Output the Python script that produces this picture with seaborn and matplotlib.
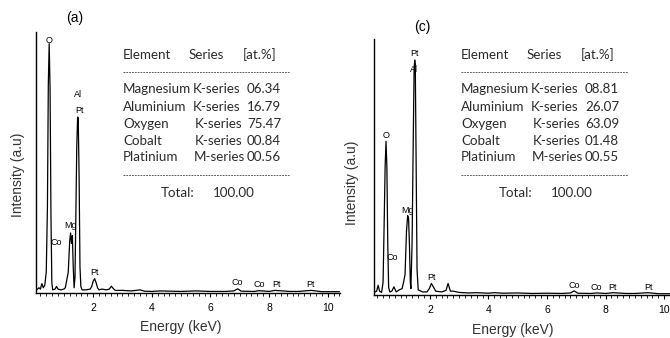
import matplotlib
matplotlib.use("Agg")
import matplotlib.pyplot as plt
import seaborn as sns
import pandas as pd
from matplotlib.lines import Line2D
from matplotlib.ticker import MultipleLocator

# ---------------- data ----------------
energy_a = [0.05, 0.15, 0.20, 0.25, 0.30, 0.35, 0.40, 0.44, 0.47, 0.50, 0.53, 0.56, 0.59, 0.62,
            0.70, 0.75, 0.80, 0.90, 1.00, 1.05, 1.10, 1.15, 1.20, 1.23, 1.26, 1.29, 1.32, 1.35,
            1.38, 1.41, 1.44, 1.47, 1.49, 1.52, 1.55, 1.58, 1.62, 1.75, 1.90, 1.95, 2.00, 2.05,
            2.10, 2.15, 2.20, 2.30, 2.45, 2.55, 2.62, 2.68, 2.75, 3.00, 3.30, 3.60, 3.75, 4.00,
            4.30, 4.60, 5.00, 5.50, 6.00, 6.50, 6.80, 6.93, 7.05, 7.50, 7.65, 8.00, 8.20, 8.70,
            9.00, 9.44, 9.80, 10.40]
intensity_a = [0.010, 0.020, 0.015, 0.036, 0.020, 0.030, 0.080, 0.330, 0.800, 0.955, 0.780, 0.300, 0.040, 0.012,
               0.015, 0.025, 0.015, 0.012, 0.015, 0.020, 0.050, 0.080, 0.200, 0.230, 0.190, 0.220, 0.100, 0.020,
               0.060, 0.300, 0.560, 0.674, 0.670, 0.450, 0.100, 0.025, 0.012, 0.012, 0.015, 0.025, 0.045, 0.055,
               0.040, 0.020, 0.012, 0.015, 0.012, 0.015, 0.026, 0.018, 0.010, 0.010, 0.008, 0.012, 0.007, 0.006,
               0.008, 0.007, 0.006, 0.008, 0.006, 0.006, 0.008, 0.016, 0.007, 0.006, 0.009, 0.006, 0.010, 0.006,
               0.006, 0.010, 0.005, 0.005]

energy_c = [0.10, 0.18, 0.23, 0.28, 0.35, 0.40, 0.44, 0.47, 0.50, 0.53, 0.56, 0.59, 0.63, 0.70,
            0.77, 0.85, 0.95, 1.05, 1.10, 1.15, 1.20, 1.24, 1.27, 1.30, 1.33, 1.35, 1.39, 1.43,
            1.46, 1.48, 1.50, 1.53, 1.56, 1.60, 1.75, 1.90, 1.98, 2.05, 2.10, 2.20, 2.40, 2.55,
            2.62, 2.70, 2.80, 3.00, 3.30, 3.60, 4.00, 4.20, 4.50, 5.00, 5.50, 6.00, 6.50, 6.80,
            6.93, 7.05, 7.50, 7.70, 8.00, 8.25, 8.70, 9.00, 9.45, 9.80, 10.20]
intensity_c = [0.010, 0.015, 0.038, 0.015, 0.010, 0.050, 0.300, 0.500, 0.600, 0.500, 0.200, 0.030, 0.012, 0.015,
               0.032, 0.012, 0.020, 0.025, 0.050, 0.080, 0.250, 0.310, 0.300, 0.200, 0.050, 0.025, 0.200, 0.600,
               0.880, 0.918, 0.900, 0.500, 0.100, 0.020, 0.012, 0.012, 0.025, 0.045, 0.035, 0.015, 0.012, 0.018,
               0.045, 0.015, 0.015, 0.010, 0.008, 0.009, 0.007, 0.009, 0.007, 0.008, 0.006, 0.007, 0.006, 0.008,
               0.016, 0.007, 0.006, 0.008, 0.006, 0.009, 0.006, 0.006, 0.009, 0.005, 0.005]

peak_labels = ["O", "Co", "Mg", "Al", "Pt", "Pt", "Co", "Co", "Pt", "Pt"]
peak_x_a = [0.49, 0.73, 1.24, 1.48, 1.52, 2.03, 6.91, 7.66, 8.24, 9.43]
peak_y_a = [0.966, 0.192, 0.26, 0.762, 0.701, 0.08, 0.042, 0.034, 0.034, 0.034]
peak_x_c = [0.50, 0.71, 1.25, 1.46, 1.49, 2.04, 6.92, 7.67, 8.25, 9.48]
peak_y_c = [0.625, 0.145, 0.332, 0.879, 0.945, 0.07, 0.039, 0.031, 0.031, 0.031]

elements = ["Magnesium", "Aluminium", "Oxygen", "Cobalt", "Platinium"]
series = ["K-series", "K-series", "K-series", "K-series", "M-series"]
at_pct_a = ["06.34", "16.79", "75.47", "00.84", "00.56"]
at_pct_c = ["08.81", "26.07", "63.09", "01.48", "00.55"]
total_text = "100.00"
panel_names = ["(a)", "(c)"]

# ---------------- figure ----------------
sns.set_theme(style="ticks")
plt.rcParams["font.family"] = ["Liberation Sans", "DejaVu Sans"]

W, H = 670, 338
fig = plt.figure(figsize=(6.7, 3.38), dpi=100)


def fx(px):
    return px / W


def fy(py):
    return 1 - py / H


# axes boxes in pixels: (left, top, right, bottom)
boxes = [(36, 32, 340, 293), (374, 39, 670, 295)]
xlims = [(0.05, 10.42), (0.09, 10.2)]
spectra = [(energy_a, intensity_a), (energy_c, intensity_c)]
peaks = [(peak_x_a, peak_y_a), (peak_x_c, peak_y_c)]
pcts = [at_pct_a, at_pct_c]
ylabel_pos = [(-0.036, 0.452), (-0.05, 0.4375)]
xlabel_pos = [(0.477, -0.105), (0.468, -0.108)]
panel_pos = [(75, 18), (422, 27)]
table_dx = [0, 338]

for i in range(2):
    l, t, r, b = boxes[i]
    ax = fig.add_axes([fx(l), fy(b), fx(r) - fx(l), (b - t) / H])
    df = pd.DataFrame({"Energy": spectra[i][0], "Intensity": spectra[i][1]})
    sns.lineplot(data=df, x="Energy", y="Intensity", ax=ax, color="black",
                 linewidth=0.9, estimator=None, sort=False)
    ax.set_xlim(*xlims[i])
    ax.set_ylim(0, 1)
    sns.despine(ax=ax)
    for s in ["left", "bottom"]:
        ax.spines[s].set_linewidth(1.0)
        ax.spines[s].set_color("black")
    ax.set_yticks([])
    ax.xaxis.set_major_locator(MultipleLocator(2))
    ax.xaxis.set_minor_locator(MultipleLocator(0.2))
    ax.tick_params(axis="x", which="major", length=3, width=0.8, labelsize=7.5,
                   pad=4, colors="black")
    ax.tick_params(axis="x", which="minor", length=2, width=0.6, colors="black")
    ax.set_xlabel("Energy (keV)", fontsize=10, color="#333333")
    ax.xaxis.set_label_coords(*xlabel_pos[i])
    ax.set_ylabel("Intensity (a.u)", fontsize=10, color="#333333")
    ax.yaxis.set_label_coords(*ylabel_pos[i])
    ax.set_facecolor("none")

    for lab, px_, py_ in zip(peak_labels, peaks[i][0], peaks[i][1]):
        ax.text(px_, py_, lab, fontsize=6.5, ha="center", va="center", color="black")

    fig.text(fx(panel_pos[i][0]), fy(panel_pos[i][1]), panel_names[i],
             fontsize=10, ha="center", va="center", color="black")

    # table
    dx = table_dx[i]
    tf = dict(family=["Lato", "DejaVu Sans"], fontsize=9.6, color="#2a2a2a", va="center")
    fig.text(fx(123 + dx), fy(55), "Element", **tf)
    fig.text(fx(189 + dx), fy(55), "Series", **tf)
    fig.text(fx(243 + dx), fy(55), "[at.%]", **tf)
    row_y = [89, 107, 124, 141, 157]
    ser_x = [193, 193, 195, 195, 194]
    for el, se, pc, yy, sx in zip(elements, series, pcts[i], row_y, ser_x):
        fig.text(fx(123 + dx), fy(yy), el, **tf)
        fig.text(fx(sx + dx), fy(yy), se, **tf)
        fig.text(fx(247 + dx), fy(yy), pc, **tf)
    for yy in [72, 175]:
        fig.add_artist(Line2D([fx(123 + dx), fx(290 + dx)], [fy(yy), fy(yy)],
                              transform=fig.transFigure, color="#444444",
                              linewidth=0.6, linestyle=(0, (2.2, 1.2))))
    fig.text(fx(161 + dx), fy(193), "Total:", **tf)
    fig.text(fx(213 + dx), fy(193), total_text, **tf)

fig.savefig("out.png", dpi=100, facecolor="white")
